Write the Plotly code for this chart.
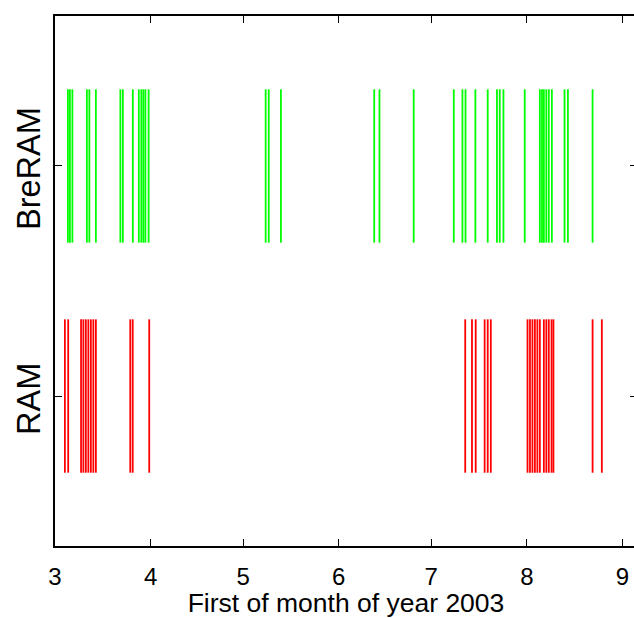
import pandas as pd
import plotly.graph_objects as go

# Event times, in days since 1 March 2003
breram_days = [4.18, 4.83, 5.64, 10.33, 11.14, 13.25, 21.19, 22.0, 25.23,
               27.18, 28.0, 28.65, 29.3, 30.35,
               68.3, 69.3, 73.24, 103.5, 105.2, 116.3,
               129.3, 132.1, 133.1, 136.3, 140.3, 143.3, 144.2, 145.4, 152.3,
               157.2, 157.9, 158.5, 159.3, 160.1, 161.1, 165.2, 166.3, 174.3]
ram_days = [3.2, 4.28, 8.45, 9.2, 10.0, 10.82, 11.63, 12.44, 13.25,
            24.4, 25.2, 30.55,
            133.0, 135.2, 136.4, 139.3, 140.3, 141.3,
            153.2, 154.0, 154.8, 155.6, 156.4, 157.2,
            158.5, 159.3, 160.1, 161.0, 161.6, 174.3, 177.3]

categories = ["RAM", "BreRAM"]
series_days = [ram_days, breram_days]
colors = ["#ff0000", "#00ff00"]
month_ticks = ["2003-03-01", "2003-04-01", "2003-05-01", "2003-06-01",
               "2003-07-01", "2003-08-01", "2003-09-01"]
month_labels = ["3", "4", "5", "6", "7", "8", "9"]

start = pd.Timestamp("2003-03-01")
half = 1 / 3

fig = go.Figure()
for i, (name, days, col) in enumerate(zip(categories, series_days, colors)):
    level = i + 1
    xs, ys = [], []
    for d in days:
        t = start + pd.Timedelta(days=d)
        xs += [t, t, None]
        ys += [level - half, level + half, None]
    fig.add_trace(go.Scatter(x=xs, y=ys, mode="lines", name=name,
                             line=dict(color=col, width=1.8),
                             showlegend=False, hoverinfo="skip"))
    # category label, rotated, centred on its tick
    fig.add_annotation(text=name, xref="paper", x=0, yref="y", y=level,
                       xanchor="center", yanchor="middle", xshift=-26, yshift=-3,
                       textangle=-90, showarrow=False, font=dict(size=32.5))

# plot box extends slightly past the right edge of the visible window
x_end = pd.Timestamp("2003-09-01") + pd.Timedelta(days=4.7)

fig.update_layout(
    width=637, height=618,
    margin=dict(l=55, r=0, t=16, b=72),
    plot_bgcolor="white", paper_bgcolor="white",
    font=dict(family="Liberation Sans, Arial, sans-serif", color="black"),
)
fig.update_xaxes(
    type="date", range=[start, x_end], automargin=False,
    tickmode="array", tickvals=month_ticks, ticktext=month_labels,
    ticklabelstandoff=8,
    ticks="inside", ticklen=7, tickwidth=1, tickcolor="black",
    showline=True, linewidth=2, linecolor="black", mirror="ticks",
    showgrid=False, zeroline=False,
    tickfont=dict(size=24),
    title=dict(text="First of month of year 2003", font=dict(size=26.5), standoff=10),
)
fig.update_yaxes(
    range=[0.348, 2.652], automargin=False,
    tickmode="array", tickvals=[1, 2], showticklabels=False,
    ticks="inside", ticklen=7, tickwidth=1, tickcolor="black",
    showline=True, linewidth=2, linecolor="black", mirror="ticks",
    showgrid=False, zeroline=False,
)

fig.write_html("out.html", config={"displayModeBar": False},
               post_script="document.body.style.margin='0px';document.body.style.overflow='hidden';")
